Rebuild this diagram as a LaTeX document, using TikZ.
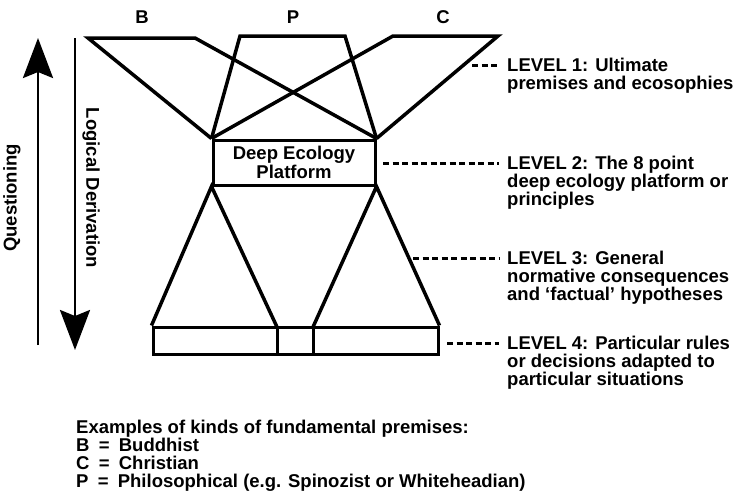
\documentclass[tikz,border=0pt]{standalone}
\usepackage{fontspec}
\setmainfont{Liberation Sans}
\usetikzlibrary{arrows.meta}
\begin{document}
\begin{tikzpicture}[x=1pt,y=-1pt,
  txt/.style={font=\bfseries\fontsize{18.5}{18}\selectfont, inner sep=0pt},
  lvl/.style={txt, align=left, anchor=base west},
  tri/.style={line width=3.5pt, line join=miter},
  boxln/.style={draw, line width=3pt, inner sep=0pt},
  arr/.style={line width=2.8pt, -{Stealth[length=40pt,width=30pt,inset=6pt]}},
  lvldash/.style={line width=3pt, dash pattern=on 6pt off 3.5pt}]
\useasboundingbox (0,0) rectangle (738,501);
% top labels
\node[txt, anchor=base] (lB) at (142,23.5) {B};
\node[txt, anchor=base] (lP) at (293,23.5) {P};
\node[txt, anchor=base] (lC) at (443,23.5) {C};
% platform
\node[boxln, minimum width=162pt, minimum height=45pt, txt, align=center, font=\bfseries\fontsize{18.5}{17}\selectfont] (plat) at (294,162.5) {Deep Ecology\\Platform};
% level 4 box
\node[boxln, minimum width=285pt, minimum height=27pt] (box4) at (295.5,340.5) {};
% vertices
\coordinate (Bl) at (88,38); \coordinate (Br) at (195,38);
\coordinate (Pl) at (240,36); \coordinate (Pr) at (345,36);
\coordinate (Cl) at (393,36); \coordinate (Cr) at (498,36);
\coordinate (s1) at (277,327); \coordinate (s2) at (313,327);
% top shapes
\draw[tri] (plat.north west) -- (Bl) -- (Br) -- (plat.north east);
\draw[tri] (plat.north west) -- (Pl) -- (Pr) -- (plat.north east);
\draw[tri] (plat.north west) -- (Cl) -- (Cr) -- (plat.north east);
% level 3 triangles
\draw[tri] (box4.north west) -- (plat.south west) -- (s1);
\draw[tri] (s2) -- (plat.south east) -- (box4.north east);
\draw[line width=3pt] (s1) -- (s1 |- box4.south);
\draw[line width=3pt] (s2) -- (s2 |- box4.south);
% arrows
\coordinate (qb) at (38,345); \coordinate (qt) at (38,38);
\coordinate (dt) at (75,38); \coordinate (db) at (75,350);
\draw[arr] (qb) -- (qt);
\draw[arr] (dt) -- (db);
\node[txt, rotate=90] (qtext) at (12,198) {Questioning};
\node[txt, rotate=-90] (dtext) at (91,188) {Logical Derivation};
% level labels (base anchor = baseline of last line)
\node[lvl] (L1) at (507,89.5) {LEVEL 1: Ultimate\\premises and ecosophies};
\node[lvl] (L2) at (507,205.5) {LEVEL 2: The 8 point\\deep ecology platform or\\principles};
\node[lvl] (L3) at (507,300.5) {LEVEL 3: General\\normative consequences\\and `factual' hypotheses};
\node[lvl] (L4) at (507,385.5) {LEVEL 4: Particular rules\\or decisions adapted to\\particular situations};
\coordinate (d1) at (472,65); \coordinate (d2) at (383,163);
\coordinate (d3) at (413,258); \coordinate (d4) at (447,343);
\draw[lvldash] (d1) -- (d1 -| 499,0);
\draw[lvldash] (d2) -- (d2 -| 499,0);
\draw[lvldash] (d3) -- (d3 -| 499,0);
\draw[lvldash] (d4) -- (d4 -| 499,0);
% legend
\node[lvl, font=\bfseries\fontsize{18.5}{17.7}\selectfont] (leg) at (76,487) {Examples of kinds of fundamental premises:\\B\enspace=\enspace Buddhist\\C\enspace=\enspace Christian\\P\enspace=\enspace Philosophical (e.g. Spinozist or Whiteheadian)};
\end{tikzpicture}
\end{document}
